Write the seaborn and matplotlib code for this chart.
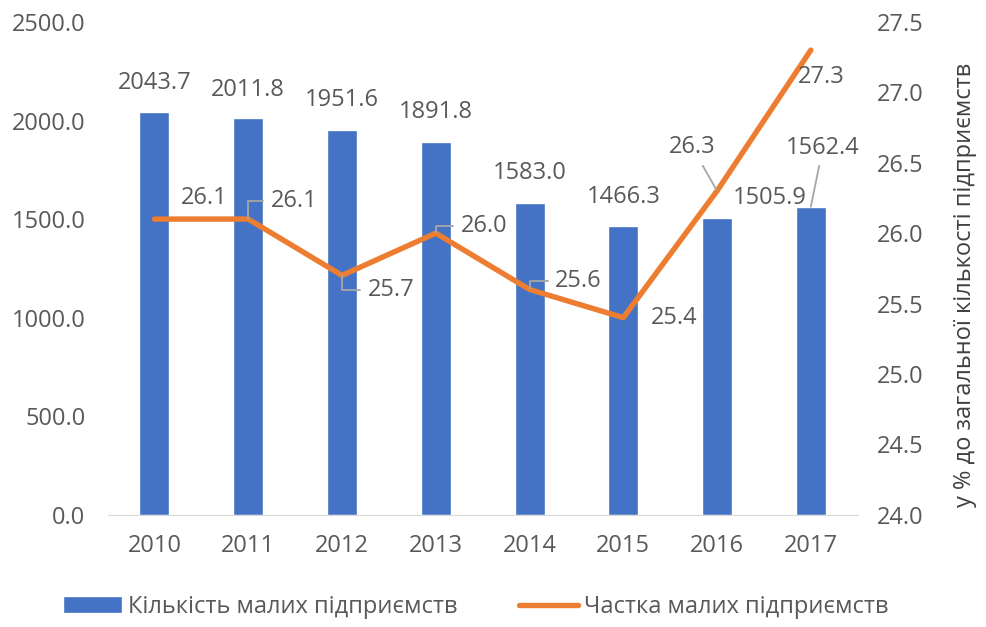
import pandas as pd
import matplotlib.pyplot as plt
import seaborn as sns
import numpy as np

sns.set_style('white')
plt.rcParams['font.family'] = ['Open Sans', 'DejaVu Sans']

# ===== дані =====
years = ['2010', '2011', '2012', '2013', '2014', '2015', '2016', '2017']
counts = [2043.7, 2011.8, 1951.6, 1891.8, 1583.0, 1466.3, 1505.9, 1562.4]
shares = [26.1, 26.1, 25.7, 26.0, 25.6, 25.4, 26.3, 27.3]

count_label = 'Кількість малих підприємств'
share_label = 'Частка малих підприємств'
right_ylabel = 'у % до загальної кількості підприємств'

df = pd.DataFrame({'year': years, 'count': counts, 'share': shares})

BLUE = '#4472C4'
ORANGE = '#ED7D31'
TXT = '#595959'
LEAD = '#A6A6A6'
FS = 17

fig = plt.figure(figsize=(9.87, 6.27), dpi=100)
ax = fig.add_axes([0.109, 0.179, 0.760, 0.786])
ax2 = ax.twinx()

sns.barplot(data=df, x='year', y='count', color=BLUE, width=0.32,
            saturation=1, ax=ax)
sns.pointplot(data=df, x='year', y='share', color=ORANGE, markers='',
              linewidth=3.9, ax=ax2)

ax.set_xlim(-0.5, 7.5)
ax.set_ylim(0, 2500)
ax.set_yticks(np.arange(0, 2501, 500))
ax.set_yticklabels([f'{v:.1f}' for v in np.arange(0, 2501, 500)])
ax2.set_ylim(24.0, 27.5)
ax2.set_yticks(np.arange(24.0, 27.51, 0.5))
ax2.set_yticklabels([f'{v:.1f}' for v in np.arange(24.0, 27.51, 0.5)])

for a in (ax, ax2):
    for s in a.spines.values():
        s.set_visible(False)
    a.set_xlabel('')
    a.tick_params(length=0, labelsize=FS, labelcolor=TXT)
ax.spines['bottom'].set_visible(True)
ax.spines['bottom'].set_color('#D9D9D9')
ax.set_ylabel('')
ax.tick_params(axis='y', pad=16)
ax.tick_params(axis='x', pad=14)
ax2.tick_params(axis='y', pad=14)
ax2.set_ylabel(right_ylabel, fontsize=FS, color='#404040')
ax2.yaxis.set_label_coords(1.127, 0.467)

# підписи стовпчиків (зміщення в пікселях)
bar_off = [(0, 29), (0, 28), (0, 30), (0, 30), (0, 30), (0, 29), (53, 20), (12, 59)]
for i, v in enumerate(counts):
    dx, dy = bar_off[i]
    props = None
    if i == 7:
        props = dict(arrowstyle='-', color=LEAD, lw=1.3, shrinkA=2, shrinkB=0)
    ax.annotate(f'{v:.1f}', (i, v), xytext=(dx, dy), textcoords='offset pixels',
                ha='center', va='center', fontsize=FS, color=TXT,
                arrowprops=props)

# підписи лінії
line_off = [(50, 21), (46, 18), (49, -15), (48, 7), (49, 8), (51, 0), (-25, 44), (10, -27)]
elbow = {1, 2, 3, 4}
for i, v in enumerate(shares):
    dx, dy = line_off[i]
    props = None
    if i in elbow:
        props = dict(arrowstyle='-', color=LEAD, lw=1.3, shrinkA=3, shrinkB=0,
                     connectionstyle='angle,angleA=0,angleB=90,rad=0')
    elif i == 6:
        props = dict(arrowstyle='-', color=LEAD, lw=1.3, shrinkA=3, shrinkB=1)
    ax2.annotate(f'{v:.1f}', (i, v), xytext=(dx, dy), textcoords='offset pixels',
                 ha='center', va='center', fontsize=FS, color=TXT,
                 arrowprops=props)

# легенда
from matplotlib.patches import Patch
from matplotlib.lines import Line2D
handles = [Patch(facecolor=BLUE, label=count_label),
           Line2D([0], [0], color=ORANGE, lw=3.9, solid_capstyle='round', label=share_label)]
fig.legend(handles=handles, loc='center', bbox_to_anchor=(0.482, 0.032), ncol=2,
           frameon=False, fontsize=FS, handlelength=2.5, handleheight=0.7,
           columnspacing=2.6, handletextpad=0.25, labelcolor=TXT)

plt.savefig('out.png', dpi=100)
